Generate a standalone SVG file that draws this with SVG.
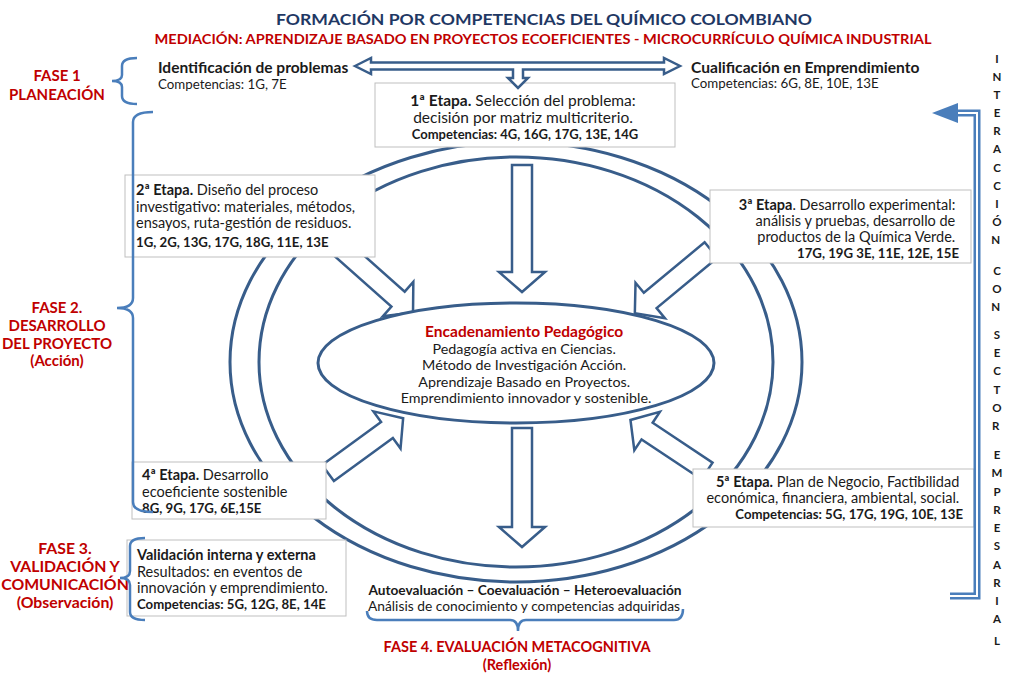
<svg xmlns="http://www.w3.org/2000/svg" width="1019" height="680" viewBox="0 0 1019 680">
<defs>
<style>
.t{font-family:Lato,"Liberation Sans",sans-serif;fill:#1a1a1a}
.b{font-weight:bold}
.red{fill:#C00000;font-weight:bold}
.ph{font-family:Lato,"Liberation Sans",sans-serif;fill:#C00000;font-weight:bold;font-size:15px;text-anchor:middle}
.box{fill:#fff;stroke:#BFBFBF;stroke-width:1}
.ring{fill:none;stroke:#385D8A;stroke-width:3}
.ba{fill:#fff;stroke:#385D8A;stroke-width:2.5;stroke-linejoin:miter}
.brace{fill:none;stroke:#4A7EBB;stroke-width:2.5}
.vl{font-family:Lato,"Liberation Sans",sans-serif;font-weight:bold;font-size:11.5px;fill:#1a1a1a;text-anchor:middle}
</style>
</defs>

<g id="title">
<text class="t b" x="544" y="25" text-anchor="middle" font-size="16" style="fill:#1F3864" textLength="536" lengthAdjust="spacingAndGlyphs">FORMACIÓN  POR  COMPETENCIAS  DEL  QUÍMICO  COLOMBIANO</text>
<text class="t red" x="543" y="44" text-anchor="middle" font-size="13.5" textLength="777" lengthAdjust="spacingAndGlyphs">MEDIACIÓN: APRENDIZAJE BASADO EN PROYECTOS ECOEFICIENTES - MICROCURRÍCULO QUÍMICA INDUSTRIAL</text>
</g>

<g id="ring">
<ellipse class="ring" cx="516" cy="362" rx="286" ry="220"/>
<ellipse class="ring" cx="516" cy="362" rx="257" ry="205"/>
</g>

<g id="connectors">
<path class="ba" transform="translate(522,165) rotate(90)" d="M0,-10 H107 V-23 L127,0 L107,23 V10 H0 Z"/>
<path class="ba" transform="translate(522,428) rotate(90)" d="M0,-10 H99 V-23 L119,0 L99,23 V10 H0 Z"/>
<path class="ba" transform="translate(336,244) rotate(41.6)" d="M0,-10 H83 V-23 L103,0 L83,23 V10 H0 Z"/>
<path class="ba" transform="translate(711,250) rotate(140.3)" d="M0,-10 H79 V-23 L99,0 L79,23 V10 H0 Z"/>
<path class="ba" transform="translate(328,473) rotate(-36.1)" d="M0,-10 H73 V-23 L93,0 L73,23 V10 H0 Z"/>
<path class="ba" transform="translate(707,471) rotate(-146.3)" d="M0,-10 H72 V-23 L92,0 L72,23 V10 H0 Z"/>
</g>

<g id="center">
<ellipse cx="516" cy="363" rx="198" ry="60" fill="#fff" stroke="#385D8A" stroke-width="3"/>
<text class="t" text-anchor="middle" font-size="14.3">
<tspan class="red" x="526" y="337" font-size="15.5">Encadenamiento Pedagógico</tspan>
<tspan x="526" y="354">Pedagogía activa en Ciencias.</tspan>
<tspan x="526" y="370">Método de Investigación Acción.</tspan>
<tspan x="526" y="387">Aprendizaje Basado en Proyectos.</tspan>
<tspan x="526" y="403">Emprendimiento innovador y sostenible.</tspan>
</text>
</g>

<g id="etapa1">
<rect class="box" x="375" y="83" width="300" height="64"/>
<text class="t" text-anchor="middle" font-size="15.5">
<tspan x="525" y="106"><tspan class="b">1ª Etapa.</tspan> Selección del problema:</tspan>
<tspan x="525" y="123">decisión por matriz multicriterio.</tspan>
<tspan x="525" y="139" class="b" font-size="13">Competencias: 4G, 16G, 17G, 13E, 14G</tspan>
</text>
</g>

<g id="etapa2">
<rect class="box" x="125" y="175" width="250" height="82"/>
<text class="t" font-size="14.5">
<tspan x="136" y="195"><tspan class="b">2ª Etapa.</tspan> Diseño del proceso</tspan>
<tspan x="136" y="212">investigativo: materiales, métodos,</tspan>
<tspan x="136" y="228">ensayos, ruta-gestión de residuos.</tspan>
<tspan x="136" y="247" class="b" font-size="13.2">1G, 2G, 13G, 17G, 18G, 11E, 13E</tspan>
</text>
</g>

<g id="etapa3">
<rect class="box" x="710" y="190" width="261" height="73"/>
<text class="t" font-size="14.5" text-anchor="end">
<tspan x="959" y="210"><tspan class="b">3ª Etapa</tspan>. Desarrollo experimental:</tspan>
<tspan x="959" y="226">análisis y pruebas, desarrollo de</tspan>
<tspan x="959" y="242">productos de la Química Verde.</tspan>
<tspan x="959" y="258" class="b" font-size="13.2">17G, 19G 3E, 11E, 12E, 15E</tspan>
</text>
</g>

<g id="etapa4">
<rect class="box" x="132" y="462" width="194" height="57"/>
<text class="t" font-size="14.5">
<tspan x="142" y="480"><tspan class="b">4ª Etapa.</tspan> Desarrollo</tspan>
<tspan x="142" y="497">ecoeficiente sostenible</tspan>
<tspan x="142" y="513" class="b" font-size="13.2">8G, 9G, 17G, 6E,15E</tspan>
</text>
</g>

<g id="etapa5">
<rect class="box" x="693" y="469" width="281" height="58"/>
<text class="t" font-size="14.5" text-anchor="end">
<tspan x="963" y="487"><tspan class="b">5ª Etapa.</tspan> Plan de Negocio, Factibilidad</tspan>
<tspan x="963" y="503">económica, financiera, ambiental, social.</tspan>
<tspan x="963" y="519" class="b" font-size="13.2">Competencias: 5G, 17G, 19G, 10E, 13E</tspan>
</text>
</g>

<g id="validacion">
<rect class="box" x="127" y="540" width="219" height="76"/>
<text class="t" font-size="14.5">
<tspan x="137" y="560" class="b">Validación interna y externa</tspan>
<tspan x="137" y="577">Resultados: en eventos de</tspan>
<tspan x="137" y="593">innovación y emprendimiento.</tspan>
<tspan x="137" y="609" class="b" font-size="13.2">Competencias: 5G, 12G, 8E, 14E</tspan>
</text>
</g>

<g id="fase1">
<text class="ph"><tspan x="57" y="81">FASE 1</tspan><tspan x="57" y="100">PLANEACIÓN</tspan></text>
<path class="brace" d="M137,58 Q122,58 122,66 L122,75 Q122,81 112,81 Q122,81 122,87 L122,96 Q122,104 137,104"/>
<text class="t b" x="158" y="73" font-size="15.5">Identificación de problemas</text>
<text class="t" x="158" y="89" font-size="13.3">Competencias: 1G, 7E</text>
</g>

<g id="cualificacion">
<text class="t b" x="691" y="73" font-size="15.6">Cualificación  en Emprendimiento</text>
<text class="t" x="691" y="88" font-size="13.3">Competencias: 6G, 8E, 10E, 13E</text>
</g>

<g id="toparrow">
<path class="ba" stroke-width="2" d="M355,66 L371,58 L371,62.5 L664,62.5 L664,58 L680,66 L664,74 L664,69.5 L523,69.5 L523,78 L528,78 L518,88 L508,78 L513,78 L513,69.5 L371,69.5 L371,74 Z"/>
</g>

<g id="fase2">
<text class="ph"><tspan x="57" y="313">FASE 2.</tspan><tspan x="57" y="331">DESARROLLO</tspan><tspan x="57" y="349">DEL PROYECTO</tspan><tspan x="57" y="366">(Acción)</tspan></text>
<path class="brace" d="M153,112 Q133,112 133,122 L133,298 Q133,308 117,308 Q133,308 133,318 L133,502 Q133,512 153,512"/>
</g>

<g id="fase3">
<text class="ph" style="font-size:15.8px"><tspan x="65" y="554">FASE 3.</tspan><tspan x="65" y="572">VALIDACIÓN Y</tspan><tspan x="65" y="590">COMUNICACIÓN</tspan><tspan x="65" y="608">(Observación)</tspan></text>
<path class="brace" d="M145,538 Q130,538 130,546 L130,571 Q130,578 120,578 Q130,578 130,585 L130,612 Q130,620 145,620"/>
</g>

<g id="fase4">
<text class="t b" x="525" y="595" text-anchor="middle" font-size="13.7">Autoevaluación – Coevaluación – Heteroevaluación</text>
<text class="t" x="524" y="611" text-anchor="middle" font-size="13.5" textLength="312" lengthAdjust="spacingAndGlyphs">Análisis de conocimiento y competencias adquiridas</text>
<path class="brace" d="M367,611 Q367,620 377,620 L510,620 Q518,620 518,631 Q518,620 526,620 L674,620 Q683,620 683,609"/>
<text class="ph" x="517" y="652" style="font-size:14.5px">FASE 4. EVALUACIÓN METACOGNITIVA</text>
<text class="ph" x="517" y="670" style="font-size:14.5px">(Reflexión)</text>
</g>

<g id="interaccion">
<path d="M950,596 L977,596 L977,113 L955,113" fill="none" stroke="#4A7EBB" stroke-width="7"/>
<path d="M950,596 L977,596 L977,113 L955,113" fill="none" stroke="#fff" stroke-width="2"/>
<polygon points="958,103 958,123 932,113" fill="#4A7EBB"/>
<text class="vl">
<tspan x="997" y="63">I</tspan><tspan x="997" y="81">N</tspan><tspan x="997" y="99">T</tspan><tspan x="997" y="117">E</tspan><tspan x="997" y="135">R</tspan><tspan x="997" y="153">A</tspan><tspan x="997" y="172">C</tspan><tspan x="997" y="190">C</tspan><tspan x="997" y="208">I</tspan><tspan x="997" y="226">Ó</tspan><tspan x="997" y="244">N</tspan>
<tspan x="997" y="275">C</tspan><tspan x="997" y="293">O</tspan><tspan x="997" y="311">N</tspan>
<tspan x="997" y="339">S</tspan><tspan x="997" y="357">E</tspan><tspan x="997" y="375">C</tspan><tspan x="997" y="394">T</tspan><tspan x="997" y="412">O</tspan><tspan x="997" y="430">R</tspan>
<tspan x="997" y="459">E</tspan><tspan x="997" y="477">M</tspan><tspan x="997" y="496">P</tspan><tspan x="997" y="514">R</tspan><tspan x="997" y="532">E</tspan><tspan x="997" y="550">S</tspan><tspan x="997" y="569">A</tspan><tspan x="997" y="587">R</tspan><tspan x="997" y="605">I</tspan><tspan x="997" y="623">A</tspan><tspan x="997" y="645">L</tspan>
</text>
</g>
</svg>
